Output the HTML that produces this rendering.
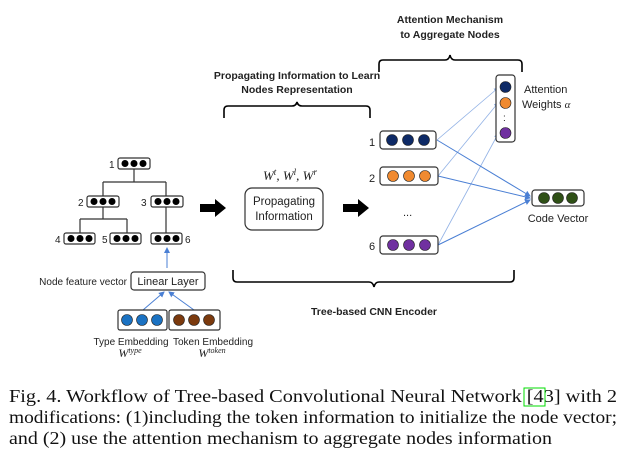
<!DOCTYPE html>
<html><head><meta charset="utf-8"><style>
body{margin:0;background:#fff}
svg{display:block}
.s{font-family:"Liberation Sans",sans-serif;fill:#222}
.b{font-weight:bold}
.c{font-family:"Liberation Serif",serif;font-size:18px;fill:#111}
.m{font-family:"Liberation Serif",serif;font-style:italic;fill:#222}
</style></head><body>
<svg width="625" height="466" viewBox="0 0 625 466" xmlns="http://www.w3.org/2000/svg">
<defs>
<marker id="a" markerWidth="6" markerHeight="6" refX="5" refY="3" orient="auto"><path d="M0,0L6,3L0,6z" fill="#4a7fd4"/></marker>
</defs>
<g fill="none" stroke="#333" stroke-width="1.2">
<path d="M134 169V182M103 182H166M103 182V196M166 182V196M103 207V219M80 219H127M80 219V233M127 219V233M166 207V233"/>
</g>
<g stroke="#333" stroke-width="1.2" fill="#fff">
<rect x="118" y="158" width="32" height="11" rx="2"/>
<rect x="87" y="196" width="32" height="11" rx="2"/>
<rect x="151" y="196" width="32" height="11" rx="2"/>
<rect x="64" y="233" width="31" height="11" rx="2"/>
<rect x="110" y="233" width="31" height="11" rx="2"/>
<rect x="151" y="233" width="31" height="11" rx="2"/>
</g>
<g fill="#000">
<circle cx="125" cy="163.5" r="3.5"/><circle cx="134" cy="163.5" r="3.5"/><circle cx="143" cy="163.5" r="3.5"/>
<circle cx="94" cy="201.5" r="3.5"/><circle cx="103" cy="201.5" r="3.5"/><circle cx="112" cy="201.5" r="3.5"/>
<circle cx="158" cy="201.5" r="3.5"/><circle cx="167" cy="201.5" r="3.5"/><circle cx="176" cy="201.5" r="3.5"/>
<circle cx="71" cy="238.5" r="3.5"/><circle cx="80" cy="238.5" r="3.5"/><circle cx="89" cy="238.5" r="3.5"/>
<circle cx="117" cy="238.5" r="3.5"/><circle cx="126" cy="238.5" r="3.5"/><circle cx="135" cy="238.5" r="3.5"/>
<circle cx="158" cy="238.5" r="3.5"/><circle cx="167" cy="238.5" r="3.5"/><circle cx="176" cy="238.5" r="3.5"/>
</g>
<g class="s" font-size="10">
<text x="109" y="168">1</text><text x="78" y="206">2</text><text x="141" y="206">3</text>
<text x="55" y="243">4</text><text x="102" y="243">5</text><text x="185" y="243">6</text>
</g>
<g stroke="#4a7fd4" stroke-width="1" fill="none">
<path d="M167 268V248" marker-end="url(#a)"/>
<path d="M143 310L164 292" marker-end="url(#a)"/>
<path d="M194 310L169 292" marker-end="url(#a)"/>
</g>
<rect x="131" y="272" width="74" height="18" rx="3" fill="#fff" stroke="#333" stroke-width="1.2"/>
<text class="s" x="168" y="285" font-size="11" text-anchor="middle">Linear Layer</text>
<text class="s" x="127" y="285" font-size="10" text-anchor="end">Node feature vector</text>
<rect x="118" y="310" width="49" height="20" rx="2" fill="#fff" stroke="#333" stroke-width="1.2"/>
<rect x="169" y="310" width="51" height="20" rx="2" fill="#fff" stroke="#333" stroke-width="1.2"/>
<g fill="#1b72c2" stroke="#222" stroke-width=".6"><circle cx="127" cy="320" r="5.5"/><circle cx="142" cy="320" r="5.5"/><circle cx="157" cy="320" r="5.5"/></g>
<g fill="#7b3a0e" stroke="#222" stroke-width=".6"><circle cx="179" cy="320" r="5.5"/><circle cx="194" cy="320" r="5.5"/><circle cx="209" cy="320" r="5.5"/></g>
<text class="s" x="131" y="345" font-size="10" text-anchor="middle">Type Embedding</text>
<text class="s" x="213" y="345" font-size="10" text-anchor="middle">Token Embedding</text>
<text class="m" x="130" y="357" font-size="12" text-anchor="middle">W<tspan font-size="8" dy="-4">type</tspan></text>
<text class="m" x="212" y="357" font-size="12" text-anchor="middle">W<tspan font-size="8" dy="-4">token</tspan></text>
<path d="M200 204H215V199L226 208L215 217V212H200z" fill="#000"/>
<path d="M343 204H358V199L369 208L358 217V212H343z" fill="#000"/>
<rect x="245" y="188" width="78" height="42" rx="7" fill="#fff" stroke="#333" stroke-width="1.2"/>
<text class="s" x="284" y="205" font-size="11.5" text-anchor="middle">Propagating</text>
<text class="s" x="284" y="220" font-size="11.5" text-anchor="middle">Information</text>
<text class="m" x="290" y="180" font-size="13" text-anchor="middle">W<tspan font-size="9" dy="-5">t</tspan><tspan dy="5">, W</tspan><tspan font-size="9" dy="-5">l</tspan><tspan dy="5">, W</tspan><tspan font-size="9" dy="-5">r</tspan></text>
<g fill="none" stroke="#000" stroke-width="1.6">
<path d="M224 118V110Q224 106 228 106H292Q296 106 297 102Q298 106 302 106H366Q370 106 370 110V118"/>
<path d="M379 72V64Q379 60 383 60H445Q449 60 450 55Q451 60 455 60H518Q522 60 522 64V72"/>
<path d="M233 270V278Q233 282 237 282H369Q373 282 374 287Q375 282 379 282H510Q514 282 514 278V270"/>
</g>
<g class="s b" font-size="10.5" text-anchor="middle">
<text x="297" y="79">Propagating Information to Learn</text>
<text x="297" y="93">Nodes Representation</text>
<text x="450" y="23">Attention Mechanism</text>
<text x="450" y="38">to Aggregate Nodes</text>
<text x="374" y="315">Tree-based CNN Encoder</text>
</g>
<g stroke="#4a7fd4" stroke-width=".8" fill="none" opacity=".6">
<path d="M437 140L498 88" marker-end="url(#a)"/>
<path d="M438 176L498 103" marker-end="url(#a)"/>
<path d="M438 245L498 134" marker-end="url(#a)"/>
</g>
<g stroke="#4a7fd4" stroke-width="1" fill="none">
<path d="M437 140L530 196" marker-end="url(#a)"/>
<path d="M438 176L530 198" marker-end="url(#a)"/>
<path d="M438 245L530 200" marker-end="url(#a)"/>
</g>
<g stroke="#333" stroke-width="1.2" fill="#fff">
<rect x="380" y="131" width="56" height="18" rx="3"/>
<rect x="380" y="167" width="58" height="18" rx="3"/>
<rect x="380" y="236" width="58" height="18" rx="3"/>
<rect x="496" y="75" width="19" height="67" rx="3"/>
<rect x="532" y="190" width="52" height="16" rx="3"/>
</g>
<g stroke="#222" stroke-width=".6">
<g fill="#0e2a66"><circle cx="392" cy="140" r="5.5"/><circle cx="408" cy="140" r="5.5"/><circle cx="424" cy="140" r="5.5"/><circle cx="505.5" cy="87" r="5.5"/></g>
<g fill="#f08a30"><circle cx="393" cy="176" r="5.5"/><circle cx="409" cy="176" r="5.5"/><circle cx="425" cy="176" r="5.5"/><circle cx="505.5" cy="103" r="5.5"/></g>
<g fill="#7030a0"><circle cx="393" cy="245" r="5.5"/><circle cx="409" cy="245" r="5.5"/><circle cx="425" cy="245" r="5.5"/><circle cx="505.5" cy="133" r="5.5"/></g>
<g fill="#2f5016"><circle cx="544" cy="198" r="5.5"/><circle cx="558" cy="198" r="5.5"/><circle cx="572" cy="198" r="5.5"/></g>
</g>
<g class="s" font-size="11">
<text x="369" y="146">1</text><text x="369" y="182">2</text><text x="369" y="250">6</text>
<text x="403" y="216">...</text>
<text x="503" y="121" font-size="10">:</text>
<text x="524" y="93">Attention</text>
<text x="522" y="108">Weights <tspan class="m">α</tspan></text>
<text x="558" y="222" text-anchor="middle">Code Vector</text>
</g>
<text class="c" x="9" y="402" textLength="608" lengthAdjust="spacingAndGlyphs">Fig. 4.  Workflow of Tree-based Convolutional Neural Network [43] with 2</text>
<rect x="524" y="388" width="21" height="18" fill="none" stroke="#00dd00" stroke-width="1"/>
<text class="c" x="9" y="423" textLength="608" lengthAdjust="spacingAndGlyphs">modifications: (1)including the token information to initialize the node vector;</text>
<text class="c" x="9" y="444" textLength="543" lengthAdjust="spacingAndGlyphs">and (2) use the attention mechanism to aggregate nodes information</text>
</svg>
</body></html>
